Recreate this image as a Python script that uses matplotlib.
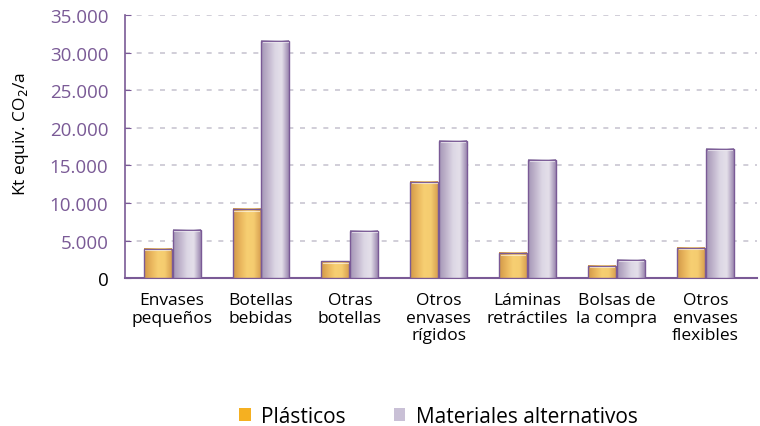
import matplotlib
matplotlib.use("Agg")
import matplotlib.pyplot as plt
import numpy as np
from matplotlib.colors import LinearSegmentedColormap
from matplotlib.patches import Rectangle

categories = ["Envases\npequeños", "Botellas\nbebidas", "Otras\nbotellas", "Otros\nenvases\nrígidos",
              "Láminas\nretráctiles", "Bolsas de\nla compra", "Otros\nenvases\nflexibles"]
plasticos = [3900, 9200, 2250, 12850, 3350, 1650, 4050]
alternativos = [6450, 31600, 6300, 18300, 15750, 2450, 17250]
yticks = [0, 5000, 10000, 15000, 20000, 25000, 30000, 35000]
ytick_labels = ["0", "5.000", "10.000", "15.000", "20.000", "25.000", "30.000", "35.000"]
series_names = ["Plásticos", "Materiales alternativos"]

plt.rcParams['font.family'] = ['Open Sans', 'DejaVu Sans']

fig = plt.figure(figsize=(7.6, 4.27), dpi=100)
ax = fig.add_axes([0.1645, 0.346, 0.8315, 0.6165])

purple = "#7a5a96"
orange_cmap = LinearSegmentedColormap.from_list("o", ["#d19848", "#e8b45c", "#f7cf72", "#f5cc70", "#d8a050"])
purple_cmap = LinearSegmentedColormap.from_list("p", ["#a596b6", "#c0b4cc", "#dcd6e4", "#e4e0ea", "#9c88b0"])
grad = np.linspace(0, 1, 64).reshape(1, -1)

w = 0.315
x = np.arange(len(categories))

def gbar(xc, h, cmap):
    x0 = xc - w / 2
    ax.imshow(grad, extent=[x0, x0 + w, 0, h], aspect='auto', cmap=cmap, zorder=3, interpolation='bicubic')
    ax.add_patch(Rectangle((x0, 0), w, h, fill=False, edgecolor=purple, lw=1.0, zorder=4))
    ax.plot([x0 + 0.02, x0 + w - 0.02], [h - 200, h - 200], color="white", lw=0.8, alpha=0.6, zorder=4)

for i in range(len(categories)):
    gbar(x[i] - w / 2 - 0.005, plasticos[i], orange_cmap)
    gbar(x[i] + w / 2 + 0.005, alternativos[i], purple_cmap)

ax.set_xlim(-0.53, 6.58)
ax.set_ylim(0, 35000)
ax.set_yticks(yticks)
ax.set_yticklabels(ytick_labels, fontsize=13.5)
for lbl, v in zip(ax.get_yticklabels(), yticks):
    lbl.set_color("black" if v == 0 else purple)
ax.tick_params(axis='y', direction='in', length=4, color=purple, pad=12)
ax.set_xticks(x)
ax.set_xticklabels(categories, fontsize=12.5, linespacing=1.12)
ax.tick_params(axis='x', length=0, pad=10)

for v in yticks[1:]:
    ax.axhline(v, color="#c9c6d2", lw=1.2, ls=(0, (3, 4)), zorder=1)

for s in ["top", "right"]:
    ax.spines[s].set_visible(False)
ax.spines["left"].set_color(purple)
ax.spines["bottom"].set_color(purple)
ax.spines["left"].set_linewidth(1.2)
ax.spines["bottom"].set_linewidth(1.5)

fig.text(0.028, 0.687, "Kt equiv. CO$_2$/a", rotation=90, ha="center", va="center", fontsize=12.5)

handles = [Rectangle((0, 0), 1, 1, facecolor="#f5b021"), Rectangle((0, 0), 1, 1, facecolor="#c9c0d6")]
fig.legend(handles, series_names, loc="center", bbox_to_anchor=(0.577, 0.022), ncol=2, frameon=False,
           fontsize=15, handlelength=0.55, handleheight=0.55, handletextpad=0.5, columnspacing=2.3)

fig.savefig("out.png", dpi=100)
